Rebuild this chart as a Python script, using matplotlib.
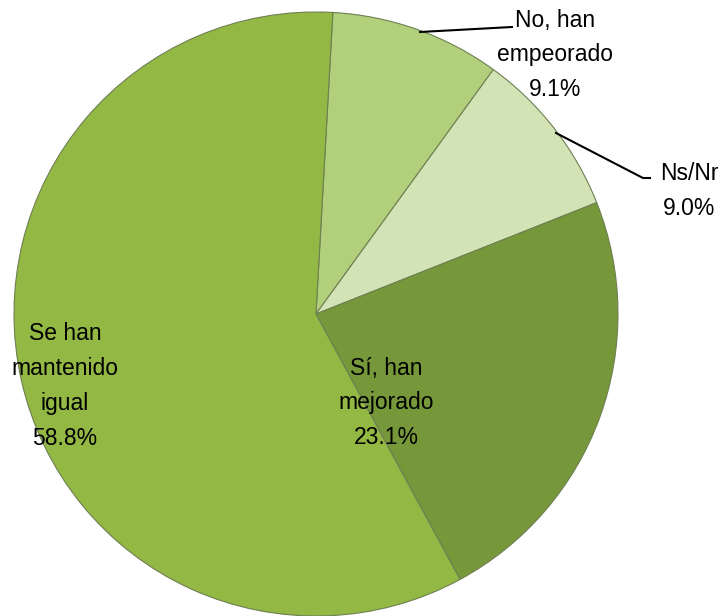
import matplotlib.pyplot as plt

# slices, clockwise from the top
labels = ["No, han\nempeorado", "Ns/Nr", "Sí, han\nmejorado", "Se han\nmantenido\nigual"]
values = [9.1, 9.0, 23.1, 58.8]
colors = ["#b2cf7c", "#d2e3b6", "#76983a", "#93b844"]

plt.rcParams["font.family"] = ["Liberation Sans", "DejaVu Sans"]

fig = plt.figure(figsize=(7.24, 6.16), dpi=100)
ax = fig.add_axes([0, 0, 1, 1])

cx, cy, r = 316, 302, 302
wedges, _ = ax.pie(values, colors=colors, startangle=86.8, counterclock=False,
                   center=(cx, cy), radius=r, frame=True,
                   wedgeprops=dict(edgecolor="#6e7f52", linewidth=0.8))
ax.set_xlim(0, 724)
ax.set_ylim(0, 616)
ax.set_aspect("equal")
ax.axis("off")

txt = [f"{l}\n{v:.1f}%" for l, v in zip(labels, values)]
fs = 16.5
ls = 1.66
ax.text(555, 561, txt[0], ha="center", va="center", fontsize=fs, linespacing=ls)
ax.text(689, 425, txt[1], ha="center", va="center", fontsize=fs, linespacing=ls)
ax.text(386, 213, txt[2], ha="center", va="center", fontsize=fs, linespacing=ls)
ax.text(65, 230, txt[3], ha="center", va="center", fontsize=fs, linespacing=ls)

# leader lines
ax.plot([420, 512], [584, 589], color="black", lw=1.5)
ax.plot([556, 643, 650], [483, 438, 438], color="black", lw=1.5)

fig.savefig("out.png", dpi=100)
